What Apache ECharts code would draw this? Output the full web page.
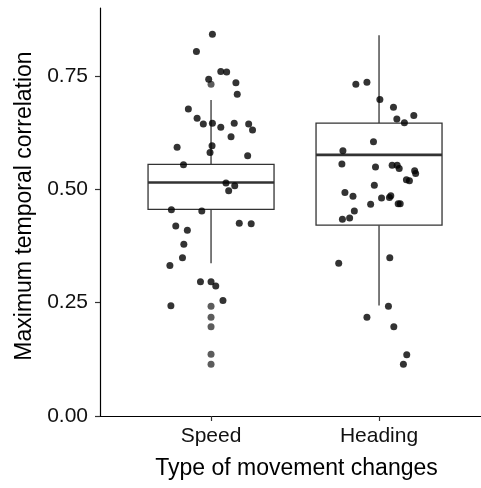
<!DOCTYPE html>
<html>
<head>
<meta charset="utf-8">
<script src="https://cdn.jsdelivr.net/npm/echarts@6/dist/echarts.min.js"></script>
<style>
  html, body { margin: 0; padding: 0; background: #fff; }
  #chart { width: 481px; height: 488px; }
</style>
</head>
<body>
<div id="chart"></div>
<script>
const categories = ['Speed', 'Heading'];
const yTicks = [0, 0.25, 0.5, 0.75];

// [posicion, bigote inferior, q1, mediana, q3, bigote superior]
const boxStats = [
  [1, 0.337, 0.456, 0.515, 0.555, 0.697],
  [2, 0.244, 0.421, 0.576, 0.646, 0.840]
];

// outliers del boxplot (dibujados en el centro)
const outliers = [[1, 0.732], [1, 0.242], [1, 0.218], [1, 0.197], [1, 0.136], [1, 0.114]];

// puntos con jitter
const speedPoints = [
  [1.008, 0.842], [0.913, 0.804], [1.058, 0.760], [1.093, 0.759], [0.986, 0.743],
  [1.148, 0.735], [1.156, 0.710], [0.865, 0.677], [0.917, 0.657], [0.954, 0.644],
  [1.008, 0.646], [1.058, 0.637], [1.138, 0.646], [1.224, 0.644], [1.247, 0.631],
  [1.119, 0.616], [0.798, 0.593], [1.006, 0.596], [0.994, 0.581], [1.218, 0.574],
  [0.836, 0.554], [1.089, 0.514], [1.141, 0.508], [1.105, 0.497], [0.764, 0.455],
  [0.945, 0.452], [0.790, 0.419], [0.859, 0.410], [1.168, 0.425], [1.239, 0.424],
  [0.838, 0.379], [0.830, 0.349], [0.755, 0.332], [0.937, 0.296], [1.000, 0.296],
  [1.028, 0.287], [1.071, 0.255], [0.761, 0.243]
];
const headingPoints = [
  [1.862, 0.732], [1.928, 0.736], [2.005, 0.698], [2.086, 0.681], [2.207, 0.663],
  [2.106, 0.655], [2.151, 0.647], [1.967, 0.605], [1.785, 0.585], [1.779, 0.556],
  [1.979, 0.549], [2.078, 0.553], [2.108, 0.553], [2.120, 0.546], [2.212, 0.541],
  [2.218, 0.535], [2.163, 0.521], [2.181, 0.519], [1.972, 0.509], [1.797, 0.493],
  [1.845, 0.485], [2.015, 0.481], [2.062, 0.482], [2.070, 0.486], [1.950, 0.467],
  [2.114, 0.468], [2.126, 0.468], [1.853, 0.452], [1.782, 0.434], [1.825, 0.437],
  [1.760, 0.337], [2.064, 0.349], [2.056, 0.242], [1.928, 0.218], [2.088, 0.197],
  [2.165, 0.135], [2.145, 0.114]
];

const font = 'Liberation Sans, Arial, Helvetica, sans-serif';
const boxColor = '#333333';

const chart = echarts.init(document.getElementById('chart'));

function renderBox(params, api) {
  const x = api.value(0);
  const half = api.size([0.75, 0])[0] / 2;
  const low = api.coord([x, api.value(1)]);
  const q1 = api.coord([x, api.value(2)]);
  const med = api.coord([x, api.value(3)]);
  const q3 = api.coord([x, api.value(4)]);
  const high = api.coord([x, api.value(5)]);
  const lineStyle = { stroke: boxColor, lineWidth: 1.3, fill: null };
  return {
    type: 'group',
    children: [
      { type: 'line', shape: { x1: high[0], y1: high[1], x2: q3[0], y2: q3[1] }, style: lineStyle },
      { type: 'line', shape: { x1: q1[0], y1: q1[1], x2: low[0], y2: low[1] }, style: lineStyle },
      { type: 'rect', shape: { x: q3[0] - half, y: q3[1], width: half * 2, height: q1[1] - q3[1] },
        style: { stroke: boxColor, lineWidth: 1.3, fill: '#fff' } },
      { type: 'line', shape: { x1: med[0] - half, y1: med[1], x2: med[0] + half, y2: med[1] },
        style: { stroke: boxColor, lineWidth: 2.6 } }
    ]
  };
}

chart.setOption({
  animation: false,
  backgroundColor: '#fff',
  grid: { left: 100, right: 0, top: 8, bottom: 72, containLabel: false },
  xAxis: {
    type: 'value',
    min: 0.339,
    max: 2.607,
    name: 'Type of movement changes',
    nameLocation: 'middle',
    nameGap: 41,
    nameTextStyle: { fontFamily: font, fontSize: 23, color: '#000', padding: [0, 0, 0, 12] },
    axisLine: { show: true, onZero: false, lineStyle: { color: '#000', width: 1.2 } },
    axisTick: { show: true, length: 5, customValues: [1, 2], lineStyle: { color: '#333', width: 1.2 } },
    axisLabel: {
      customValues: [1, 2],
      formatter: v => categories[Math.round(v) - 1],
      fontFamily: font, fontSize: 21, color: '#111', margin: 10
    },
    splitLine: { show: false }
  },
  yAxis: {
    type: 'value',
    min: 0,
    max: 0.9,
    name: 'Maximum temporal correlation',
    nameLocation: 'middle',
    nameGap: 62,
    nameRotate: 90,
    nameTextStyle: { fontFamily: font, fontSize: 23, color: '#000', padding: [0, 0, 0, 12] },
    axisLine: { show: true, lineStyle: { color: '#000', width: 1.2 } },
    axisTick: { show: true, length: 5, customValues: yTicks, lineStyle: { color: '#333', width: 1.2 } },
    axisLabel: {
      customValues: yTicks,
      formatter: v => v.toFixed(2),
      fontFamily: font, fontSize: 21, color: '#111', margin: 12
    },
    splitLine: { show: false }
  },
  series: [
    {
      type: 'custom',
      renderItem: renderBox,
      encode: { x: 0, y: [1, 2, 3, 4, 5] },
      data: boxStats,
      z: 1
    },
    {
      type: 'scatter',
      data: outliers,
      symbolSize: 7,
      itemStyle: { color: boxColor },
      z: 2
    },
    {
      type: 'scatter',
      name: categories[0],
      data: speedPoints,
      symbolSize: 7,
      itemStyle: { color: '#000' },
      z: 3
    },
    {
      type: 'scatter',
      name: categories[1],
      data: headingPoints,
      symbolSize: 7,
      itemStyle: { color: '#000' },
      z: 3
    }
  ]
});
</script>
</body>
</html>
